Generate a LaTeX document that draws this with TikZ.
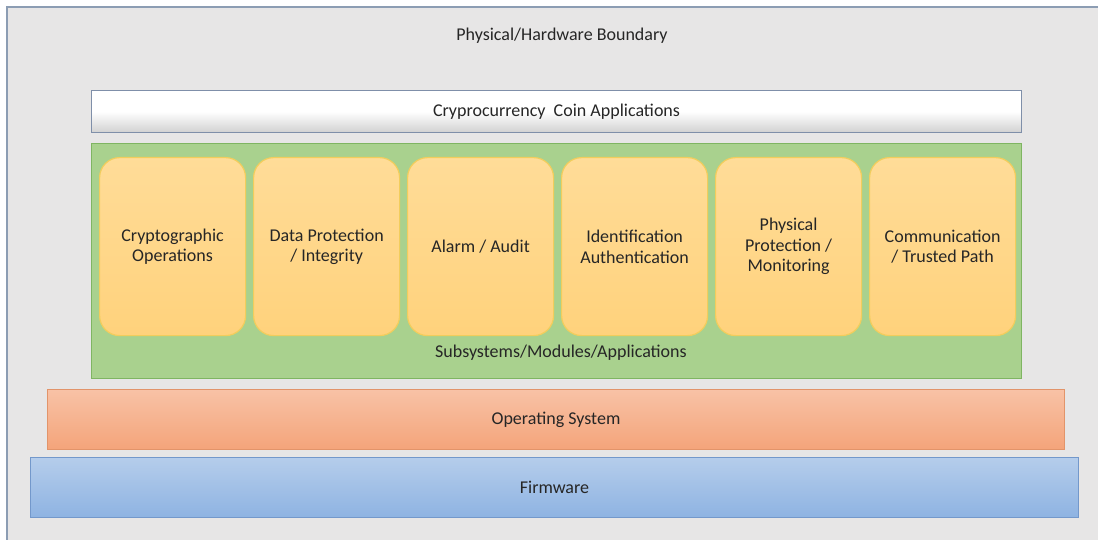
\documentclass[tikz,border=0pt]{standalone}
\usepackage{fontspec}
\setmainfont{Carlito}
\definecolor{boundfill}{HTML}{E7E6E6}
\definecolor{bounddraw}{HTML}{8C9DB3}
\definecolor{txt}{HTML}{262626}
\definecolor{appdraw}{HTML}{7F8FA9}
\definecolor{greenfill}{HTML}{A9D18E}
\definecolor{greendraw}{HTML}{7FB562}
\definecolor{modtop}{HTML}{FFDC98}
\definecolor{modbot}{HTML}{FFD27C}
\definecolor{moddraw}{HTML}{F2CD5C}
\definecolor{ostop}{HTML}{F8C2A6}
\definecolor{osbot}{HTML}{F4A47A}
\definecolor{osdraw}{HTML}{E2946A}
\definecolor{fwtop}{HTML}{B5CDEB}
\definecolor{fwbot}{HTML}{8EB3E2}
\definecolor{fwdraw}{HTML}{7398CB}
\tikzset{
  lbl/.style={text=txt, font=\fontsize{18}{20.5}\selectfont, align=center},
  layer/.style={anchor=north west, inner sep=0pt, line width=1pt, lbl},
  appbar/.style={layer, draw=appdraw, top color=white, bottom color=white!82!black, middle color=white},
  subsys/.style={layer, fill=greenfill, draw=greendraw},
  modbox/.style={layer, rounded corners=20pt, draw=moddraw, line width=1.2pt,
    top color=modtop, bottom color=modbot, minimum width=146pt, minimum height=178pt},
  osbar/.style={layer, draw=osdraw, top color=ostop, bottom color=osbot},
  fwbar/.style={layer, draw=fwdraw, top color=fwtop, bottom color=fwbot},
}
\begin{document}
\begin{tikzpicture}[x=1pt, y=-1pt]
  \useasboundingbox (0,0) rectangle (1098,540);
  \fill[white] (0,0) rectangle (1098,540);
  % hardware boundary, open to the right and bottom
  \fill[boundfill] (7,7) rectangle (1110,560);
  \draw[bounddraw, line width=2pt] (7,560) -- (7,7) -- (1110,7);
  \node[lbl] (boundary) at (562,36) {Physical/Hardware Boundary};

  % application layer
  \node[appbar, minimum width=930pt, minimum height=42pt] (apps) at (91,90)
    {Cryprocurrency\ \ Coin Applications};

  % subsystems container
  \node[subsys, minimum width=930pt, minimum height=235pt] (subsys) at (91,143) {};
  \node[lbl] (subsyslbl) at (561,353) {Subsystems/Modules/Applications};

  % modules
  \node[modbox] (m1) at (99,157)  {Cryptographic\\Operations};
  \node[modbox] (m2) at (253,157) {Data Protection\\/ Integrity};
  \node[modbox] (m3) at (407,157) {Alarm / Audit};
  \node[modbox] (m4) at (561,157) {Identification\\Authentication};
  \node[modbox] (m5) at (715,157) {Physical\\Protection /\\Monitoring};
  \node[modbox] (m6) at (869,157) {Communication\\/ Trusted Path};

  % lower layers
  \node[osbar, minimum width=1017pt, minimum height=60pt] (os) at (47,389) {Operating System};
  \node[fwbar, minimum width=1048pt, minimum height=60pt] (fw) at (30,457) {Firmware};
\end{tikzpicture}
\end{document}
